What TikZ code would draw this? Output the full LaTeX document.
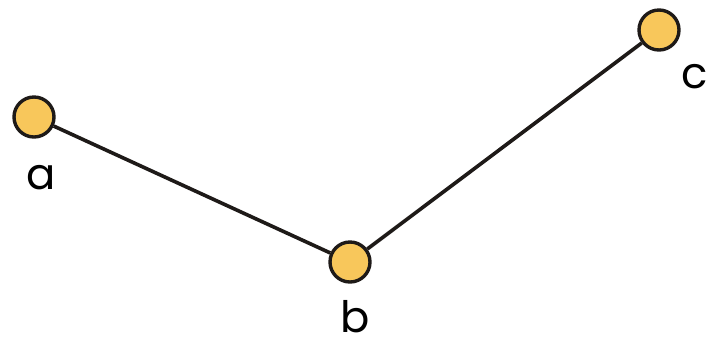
\documentclass[tikz,border=0pt]{standalone}
\usepackage{fontspec}
\setmainfont{Poppins}
\usepackage{tikz}
\usetikzlibrary{positioning}

\definecolor{vertexfill}{HTML}{F8C75B}
\definecolor{vertexline}{HTML}{1E1A18}

\begin{document}
\begin{tikzpicture}[x=0.03cm, y=-0.03cm]
        \tikzset{VertexStyle/.style={circle, draw=vertexline, fill=vertexfill,
                line width=2.9pt, minimum size=1.2cm, inner sep=0pt},
                EdgeStyle/.style={draw=vertexline, line width=3.1pt},
                LabelStyle/.style={font=\fontsize{37}{37}\selectfont, inner sep=0pt}}
        \useasboundingbox (0,0) rectangle (708,350);
        \node[VertexStyle] (A) at (34,117) {};
        \node[VertexStyle] (B) at (350,262) {};
        \node[VertexStyle] (C) at (659,30) {};
        \draw[EdgeStyle] (A) -- (B);
        \draw[EdgeStyle] (B) -- (C);
        \node[LabelStyle] (LA) at (41,178) {a};
        \node[LabelStyle] (LB) at (355,317) {b};
        \node[LabelStyle] (LC) at (695,77) {c};
    \end{tikzpicture}
\end{document}
